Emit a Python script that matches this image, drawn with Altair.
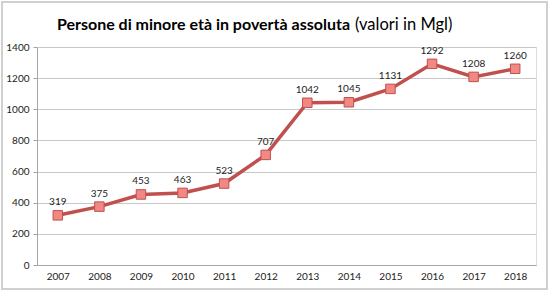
import altair as alt
import pandas as pd

years = ["2007", "2008", "2009", "2010", "2011", "2012", "2013", "2014", "2015", "2016", "2017", "2018"]
values = [319, 375, 453, 463, 523, 707, 1042, 1045, 1131, 1292, 1208, 1260]
y_ticks = [0, 200, 400, 600, 800, 1000, 1200, 1400]
title_bold = "Persone di minore età in povertà assoluta"
title_normal = "(valori in Mgl)"

df = pd.DataFrame({"year": years, "value": values})

FONT = "Lato"
W, H = 499, 218

x = alt.X("year:N", sort=years, title=None,
          scale=alt.Scale(paddingInner=0, paddingOuter=0.5),
          axis=alt.Axis(labelAngle=0, labelFont=FONT, labelFontSize=10, labelColor="#222222",
                        domainColor="#A6A6A6", ticks=False, labelPadding=6, grid=False))
y = alt.Y("value:Q", title=None,
          scale=alt.Scale(domain=[0, 1400], nice=False),
          axis=alt.Axis(values=y_ticks, format="d", labelFont=FONT, labelFontSize=10, labelColor="#222222",
                        domainColor="#A6A6A6", tickColor="#A6A6A6", tickSize=4, labelPadding=4,
                        gridColor="#C8C8C8", gridWidth=1.2))

base = alt.Chart(df)

line = base.mark_line(color="#C0504D", strokeWidth=3.5).encode(x=x, y=y)
points = base.mark_point(shape="square", filled=True, size=90, fill="#F08884",
                         stroke="#C0504D", strokeWidth=1, opacity=1).encode(x=x, y=y)
labels = base.mark_text(dy=-13, font=FONT, fontSize=10, color="#222222").encode(
    x=x, y=y, text="value:Q")

t1 = alt.Chart(pd.DataFrame({"t": [title_bold]})).mark_text(
    font=FONT, fontSize=16, fontWeight="bold", align="right", baseline="alphabetic", color="#000000"
).encode(x=alt.value(313), y=alt.value(-17), text="t:N")
t2 = alt.Chart(pd.DataFrame({"t": [title_normal]})).mark_text(
    font=FONT, fontSize=16.5, fontWeight="normal", align="left", baseline="alphabetic", color="#000000"
).encode(x=alt.value(318), y=alt.value(-17), text="t:N")

border = alt.Chart(pd.DataFrame({"a": [0]})).mark_rect(
    fill=None, stroke="#D0D0D0", strokeWidth=2, clip=False
).encode(x=alt.value(-35), x2=alt.value(W + 11), y=alt.value(-45), y2=alt.value(H + 24))

chart = alt.layer(border, line, points, labels, t1, t2).properties(
    width=W, height=H,
    padding={"left": 37, "top": 47, "right": 14, "bottom": 27},
    autosize=alt.AutoSizeParams(type="none"),
).configure_view(stroke=None).configure(background="white")

chart.save("out.html", embed_options={"renderer": "svg", "actions": False})
